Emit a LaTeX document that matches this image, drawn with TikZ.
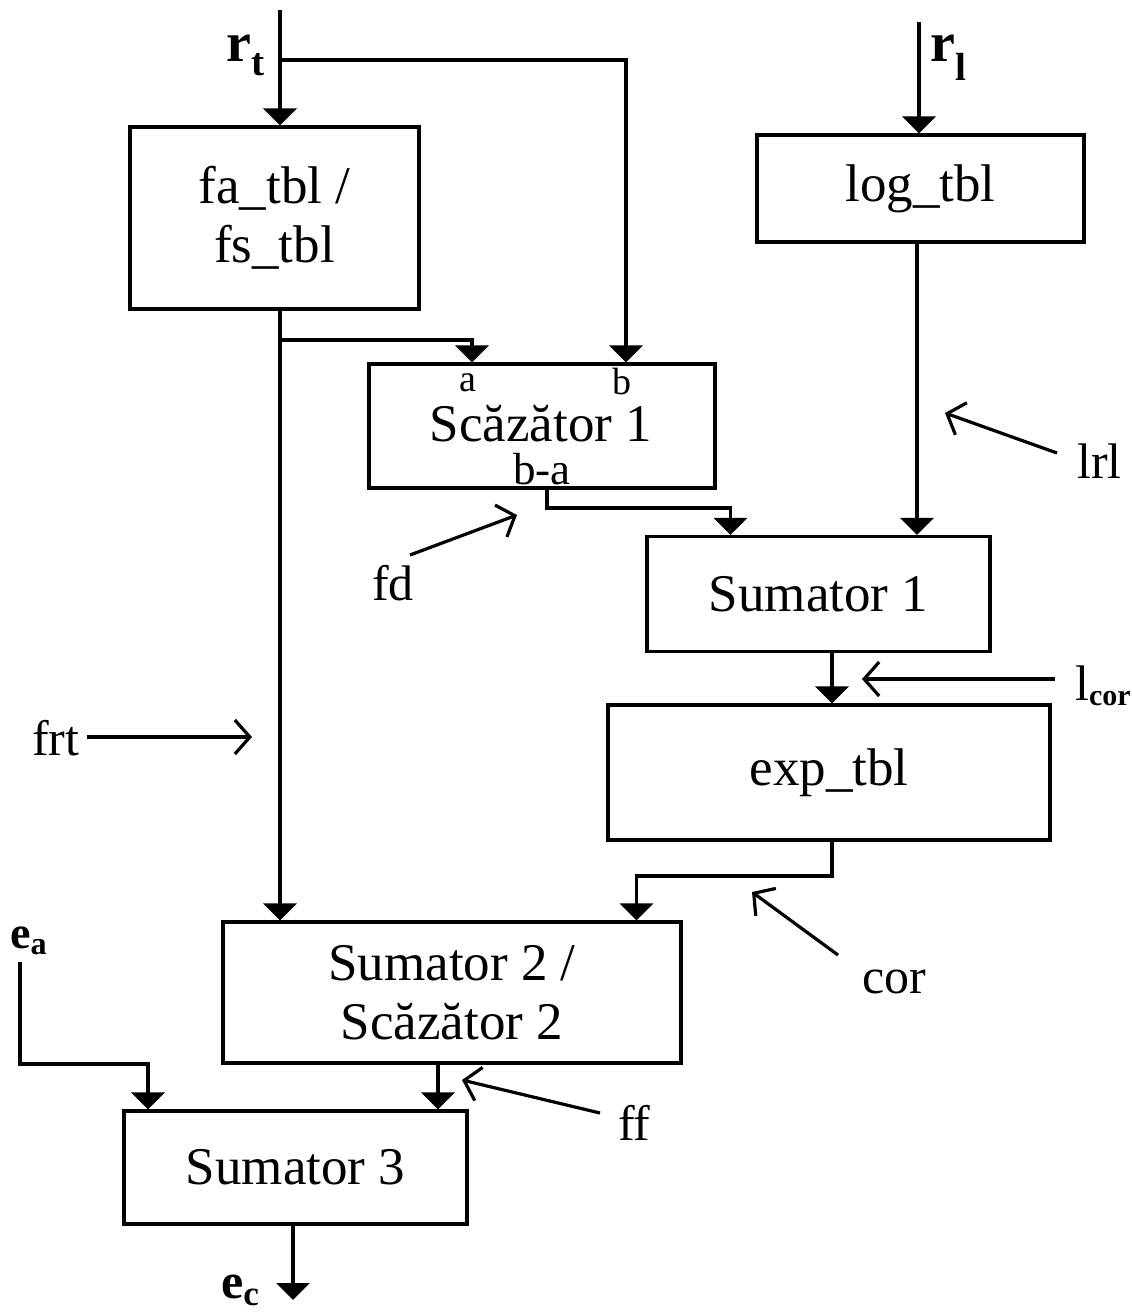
\documentclass[tikz,border=0pt]{standalone}
\usepackage{fontspec}
\setmainfont{Liberation Serif}
\usetikzlibrary{arrows.meta}
\begin{document}
\begin{tikzpicture}[x=1pt,y=-1pt,
  blk/.style={draw,line width=3.2pt,inner sep=0pt,align=center,
    font=\fontsize{53}{59}\selectfont},
  txt/.style={inner sep=0pt,font=\fontsize{53}{59}\selectfont},
  port/.style={inner sep=0pt,font=\fontsize{38}{40}\selectfont},
  portd/.style={inner sep=0pt,font=\fontsize{45}{48}\selectfont},
  sig/.style={inner sep=0pt,font=\fontsize{50}{54}\selectfont},
  flow/.style={line width=3.2pt,-{Triangle[length=17pt,width=33pt]}},
  pointer/.style={line width=3.2pt,
    -{Straight Barb[length=15pt,width=34pt,line width=3.2pt]}}]

\path[use as bounding box] (0,0) rectangle (1132,1314);

% blocks
\node[blk, minimum width=289pt, minimum height=182pt] (fa) at (274.5,218) {fa\_tbl /\\fs\_tbl};
\node[blk, minimum width=327pt, minimum height=107pt] (log) at (920.5,188.5) {log\_tbl};
\node[blk, minimum width=346pt, minimum height=124pt] (sc1) at (542,426) {};
\node[txt, anchor=base] (sc1t) at (541,441) {Scăzător 1};
\node[port, anchor=base] (pa) at (468,391) {a};
\node[port, anchor=base] (pb) at (622,394) {b};
\node[portd, anchor=base] (pba) at (542,484) {b-a};
\node[blk, minimum width=343pt, minimum height=115pt] (s1) at (818.5,594) {Sumator 1};
\node[blk, minimum width=442pt, minimum height=135pt] (exp) at (829,772.5) {exp\_tbl};
\node[blk, minimum width=458pt, minimum height=141pt] (s2) at (452,992.5) {Sumator 2 /\\Scăzător 2};
\node[blk, minimum width=343pt, minimum height=113pt] (s3) at (295.5,1167.5) {Sumator 3};

% signal labels
\node[sig, anchor=base west, font=\fontsize{56}{60}\selectfont] (lrt) at (226,62) {\textbf{r}\textsubscript{\textbf{t}}};
\node[sig, anchor=base west, font=\fontsize{56}{60}\selectfont] (lrl) at (930,62) {\textbf{r}\textsubscript{\textbf{l}}};
\node[sig, anchor=base west, font=\fontsize{46}{50}\selectfont] (lea) at (10,948) {\textbf{e}\textsubscript{\textbf{a}}};
\node[sig, anchor=base west] (lec) at (221,1298) {\textbf{e}\textsubscript{\textbf{c}}};
\node[sig, anchor=base west] (llrl) at (1077,478) {lrl};
\node[sig, anchor=base west] (llcor) at (1075,700) {l\raisebox{-5pt}{\fontsize{30}{32}\selectfont\bfseries cor}};
\node[sig, anchor=base west] (lfd) at (372,600) {fd};
\node[sig, anchor=base west] (lfrt) at (32,755) {frt};
\node[sig, anchor=base west] (lcor) at (862,993) {cor};
\node[sig, anchor=base west] (lff) at (618,1140) {ff};

% inputs and bends
\coordinate (rtin) at (280,10);
\coordinate (rtfork) at (280,60);
\coordinate (afork) at (280,340);
\coordinate (rlin) at (919,22);
\coordinate (fdbend) at (547,508);
\coordinate (corbend) at (832,876);
\coordinate (eain) at (20,962);
\coordinate (eabend) at (20,1064);
\coordinate (ecout) at (293,1300);

% data paths
\draw[flow] (rtin) -- (rtin |- fa.north);
\draw[flow] (rtfork) -| ([xshift=84pt]sc1.north);
\draw[flow] (fa.south -| rtin) -- (s2.north -| rtin);
\draw[flow] (afork) -| ([xshift=-70pt]sc1.north);
\draw[flow] (rlin) -- (rlin |- log.north);
\draw[flow] ([xshift=-3.5pt]log.south) -- ([xshift=-3.5pt]log.south |- s1.north);
\draw[flow] (sc1.south -| fdbend) -- (fdbend) -| ([xshift=-88pt]s1.north);
\draw[flow] ([xshift=13.5pt]s1.south) -- ([xshift=13.5pt]s1.south |- exp.north);
\draw[flow] (exp.south -| corbend) -- (corbend) -| ([xshift=184.5pt]s2.north);
\draw[flow] ([xshift=-14pt]s2.south) -- ([xshift=-14pt]s2.south |- s3.north);
\draw[flow] (eain) -- (eabend) -| ([xshift=-147.5pt]s3.north);
\draw[flow] (s3.south -| ecout) -- (ecout);

% annotation pointers
\coordinate (plrl0) at (1057,453);   \coordinate (plrl1) at (945,413);
\coordinate (plcor0) at (1055,679);  \coordinate (plcor1) at (862,679);
\coordinate (pfd0) at (410,555);     \coordinate (pfd1) at (517,515);
\coordinate (pfrt0) at (87,737);     \coordinate (pfrt1) at (252,737);
\coordinate (pcor0) at (838,955);    \coordinate (pcor1) at (752,892);
\coordinate (pff0) at (600,1113);    \coordinate (pff1) at (462,1080);
\draw[pointer] (plrl0) -- (plrl1);
\draw[pointer] (plcor0) -- (plcor1);
\draw[pointer] (pfd0) -- (pfd1);
\draw[pointer] (pfrt0) -- (pfrt1);
\draw[pointer] (pcor0) -- (pcor1);
\draw[pointer] (pff0) -- (pff1);
\end{tikzpicture}
\end{document}
